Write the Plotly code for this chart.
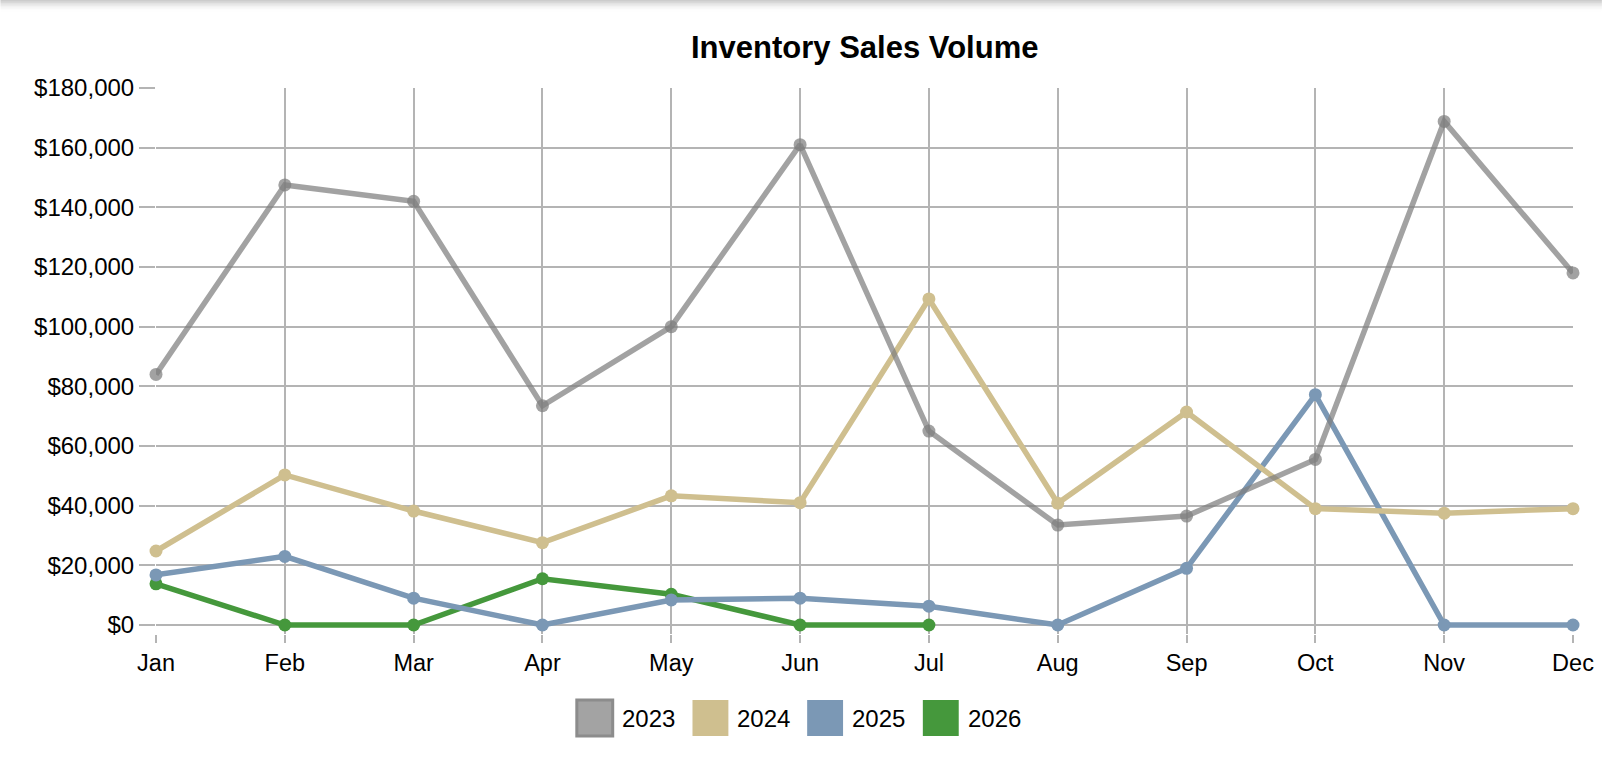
import plotly.graph_objects as go

months = ["Jan", "Feb", "Mar", "Apr", "May", "Jun", "Jul", "Aug", "Sep", "Oct", "Nov", "Dec"]
sales_2023 = [84000, 147500, 142000, 73500, 100000, 161000, 65000, 33500, 36500, 55500, 168800, 118000]
sales_2024 = [24800, 50300, 38200, 27600, 43300, 41000, 109300, 40800, 71400, 39000, 37500, 39000]
sales_2025 = [16800, 23000, 9000, 0, 8400, 9000, 6300, 0, 19000, 77200, 0, 0]
sales_2026 = [13800, 0, 0, 15500, 10300, 0, 0]
series_names = ["2023", "2024", "2025", "2026"]
y_ticks = [0, 20000, 40000, 60000, 80000, 100000, 120000, 140000, 160000, 180000]

W, H = 1606, 780
# plot area extends 9px below the $0 line so zero-valued lines are not clipped
L, R, T, B = 156, 29, 88, 146
PW, PH = W - L - R, H - T - B
Y_EXT = 180000 / 537 * 9

def px_x(p):
    return (p - L) / PW

def px_y(p):
    return (H - B - p) / PH

FONT = "Liberation Sans, Arial, Helvetica, sans-serif"
GRID = "#b4b4b4"

styles = {
    "2023": "rgba(128,128,128,0.73)",
    "2024": "#cfbf8f",
    "2025": "#7b98b5",
    "2026": "#45983c",
}
data = {"2023": sales_2023, "2024": sales_2024, "2025": sales_2025, "2026": sales_2026}

fig = go.Figure()
for name in ["2026", "2025", "2024", "2023"]:
    vals = data[name]
    fig.add_trace(go.Scatter(
        x=list(range(len(vals))), y=vals, name=name, mode="lines+markers",
        line=dict(color=styles[name], width=5.5),
        marker=dict(color=styles[name], size=13),
        cliponaxis=False, showlegend=False,
    ))

fig.update_xaxes(
    range=[0, 11], tickvals=list(range(12)), ticktext=months,
    showgrid=True, gridcolor=GRID, gridwidth=1.5,
    ticks="outside", ticklen=8, tickcolor=GRID, tickwidth=1.5,
    showline=False, zeroline=False,
    tickfont=dict(family=FONT, size=23.5, color="#000"),
)
fig.update_yaxes(
    range=[-Y_EXT, 180000], tickvals=y_ticks, tickformat="$,.0f",
    showgrid=True, gridcolor=GRID, gridwidth=1.5,
    ticks="outside", ticklen=16, tickcolor=GRID, tickwidth=1.5,
    zeroline=True, zerolinecolor=GRID, zerolinewidth=1.5, showline=False,
    tickfont=dict(family=FONT, size=24, color="#000"),
)

shapes = []
# top shadow
for i in range(8):
    shapes.append(dict(type="rect", xref="paper", yref="paper",
                       x0=px_x(0), x1=px_x(W), y0=px_y(i * 1.5 + 1.5), y1=px_y(i * 1.5),
                       fillcolor="rgba(0,0,0,%.3f)" % (0.2 * (1 - i / 8) ** 2),
                       line=dict(width=0), layer="above"))

# legend
leg_colors = {"2023": "#a3a3a3", "2024": "#cfbf8f", "2025": "#7b98b5", "2026": "#45983c"}
leg_x0 = [578, 694, 809, 925]
annotations = []
for name, x0 in zip(series_names, leg_x0):
    border = dict(color="#8c8c8c", width=3) if name == "2023" else dict(width=0)
    shapes.append(dict(type="rect", xref="paper", yref="paper",
                       x0=px_x(x0), x1=px_x(x0 + 36), y0=px_y(736), y1=px_y(700),
                       fillcolor=leg_colors[name], line=border))
    annotations.append(dict(xref="paper", yref="paper", x=px_x(x0 + 43), y=px_y(718),
                            text=name, showarrow=False, xanchor="left", yanchor="middle",
                            font=dict(family=FONT, size=24, color="#000")))

annotations.append(dict(xref="paper", yref="paper", x=px_x(866), y=px_y(47),
                        text="<b>Inventory Sales Volume</b>", showarrow=False,
                        xanchor="center", yanchor="middle",
                        font=dict(family=FONT, size=31, color="#000")))

fig.update_layout(
    width=W, height=H,
    margin=dict(l=L, r=R, t=T, b=B, pad=0),
    paper_bgcolor="white", plot_bgcolor="white",
    showlegend=False,
    shapes=shapes, annotations=annotations,
)

fig.write_html("out.html")
